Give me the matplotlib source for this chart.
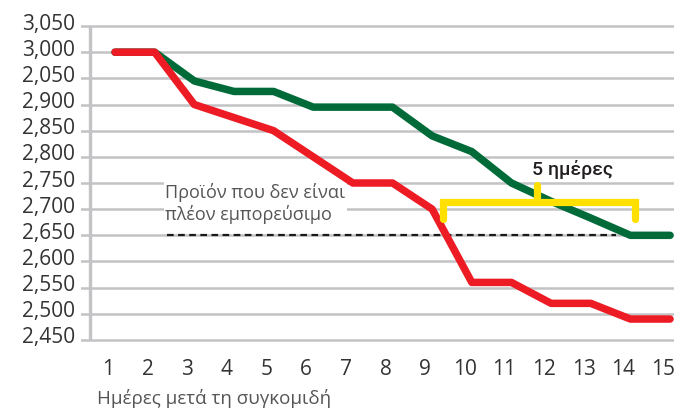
import matplotlib
matplotlib.use('Agg')
import matplotlib.pyplot as plt
from matplotlib.transforms import ScaledTranslation

plt.rcParams['font.family'] = ['Open Sans', 'DejaVu Sans']

# Δεδομένα
days = list(range(1, 16))
green_vals = [3000, 3000, 2945, 2925, 2925, 2895, 2895, 2895, 2840, 2810, 2750, 2715, 2683, 2650, 2650]
red_vals = [3000, 3000, 2900, 2875, 2850, 2800, 2750, 2750, 2700, 2560, 2560, 2520, 2520, 2490, 2490]
y_ticks = [2450, 2500, 2550, 2600, 2650, 2700, 2750, 2800, 2850, 2900, 2950, 3000, 3050]
y_labels = ["2,450", "2,500", "2,550", "2,600", "2,650", "2,700", "2,750", "2,800",
            "2,850", "2,900", "2,050", "3,000", "3,050"]
limit_value = 2650
limit_start, limit_end = 2.3, 13.64
bracket_left, bracket_right, bracket_mid = 9.27, 14.12, 11.65

W, H = 680, 411
fig = plt.figure(figsize=(W / 100, H / 100), dpi=100)
# axes: x 81..674 px, y 20.8..345.2 px (από πάνω)
ax = fig.add_axes([81 / W, 1 - 345.2 / H, (674 - 81) / W, (345.2 - 20.8) / H])
ax.set_xlim(0.142, 15.1)
ax.set_ylim(2440, 3060)

for s in ax.spines.values():
    s.set_visible(False)

# πλέγμα
for v in y_ticks:
    ax.axhline(v, color="#C2C3C5", lw=1.8, zorder=1)
ax.vlines(0.369, 2450, 3050, color="#C2C3C5", lw=2.4, zorder=1)

# όριο εμπορευσιμότητας
ax.plot([limit_start, limit_end], [limit_value, limit_value], color="#1a1a1a",
        lw=1.6, dashes=(3, 2), zorder=3)

ax.plot(days, green_vals, color="#006B38", lw=5.4, solid_capstyle="round", zorder=4)
ax.plot(days, red_vals, color="#ED1C24", lw=5.4, solid_capstyle="round", zorder=5)

# αγκύλη 5 ημερών
yc = "#FFE000"
ax.plot([bracket_left, bracket_left, bracket_right, bracket_right],
        [2682, 2714, 2714, 2682], color=yc, lw=5.2, solid_capstyle="round",
        solid_joinstyle="miter", zorder=6)
ax.plot([bracket_mid, bracket_mid], [2714, 2746], color=yc, lw=5.2,
        solid_capstyle="round", zorder=6)
ax.text(12.53, 2775, "5 ημέρες", ha="center", va="center", fontsize=14,
        family=["Roboto", "DejaVu Sans"], fontweight="medium", color="#231F20", zorder=7)

ax.text(2.26, 2710, "Προϊόν που δεν είναι\nπλέον εμπορεύσιμο", ha="left", va="center",
        fontsize=13, color="#555555", linespacing=1.2, zorder=3,
        bbox=dict(facecolor="white", edgecolor="none", pad=1))

ax.set_yticks(y_ticks)
ax.set_yticklabels(y_labels, fontsize=15, color="#333333")
ax.set_xticks(days)
ax.set_xticklabels([str(d) for d in days], fontsize=15, color="#333333")
ax.tick_params(axis="y", length=0, pad=4.5)
ax.tick_params(axis="x", length=0, pad=10)

for lab in ax.get_yticklabels():
    lab.set_transform(lab.get_transform() + ScaledTranslation(0, 4.5 / 100, fig.dpi_scale_trans))
for lab in ax.get_xticklabels():
    lab.set_transform(lab.get_transform() + ScaledTranslation(-7 / 100, 0, fig.dpi_scale_trans))

fig.text(214 / W, 1 - 398 / H, "Ημέρες μετά τη συγκομιδή", ha="center", va="center",
         fontsize=13.5, color="#555555")

fig.savefig("out.png", dpi=100)
